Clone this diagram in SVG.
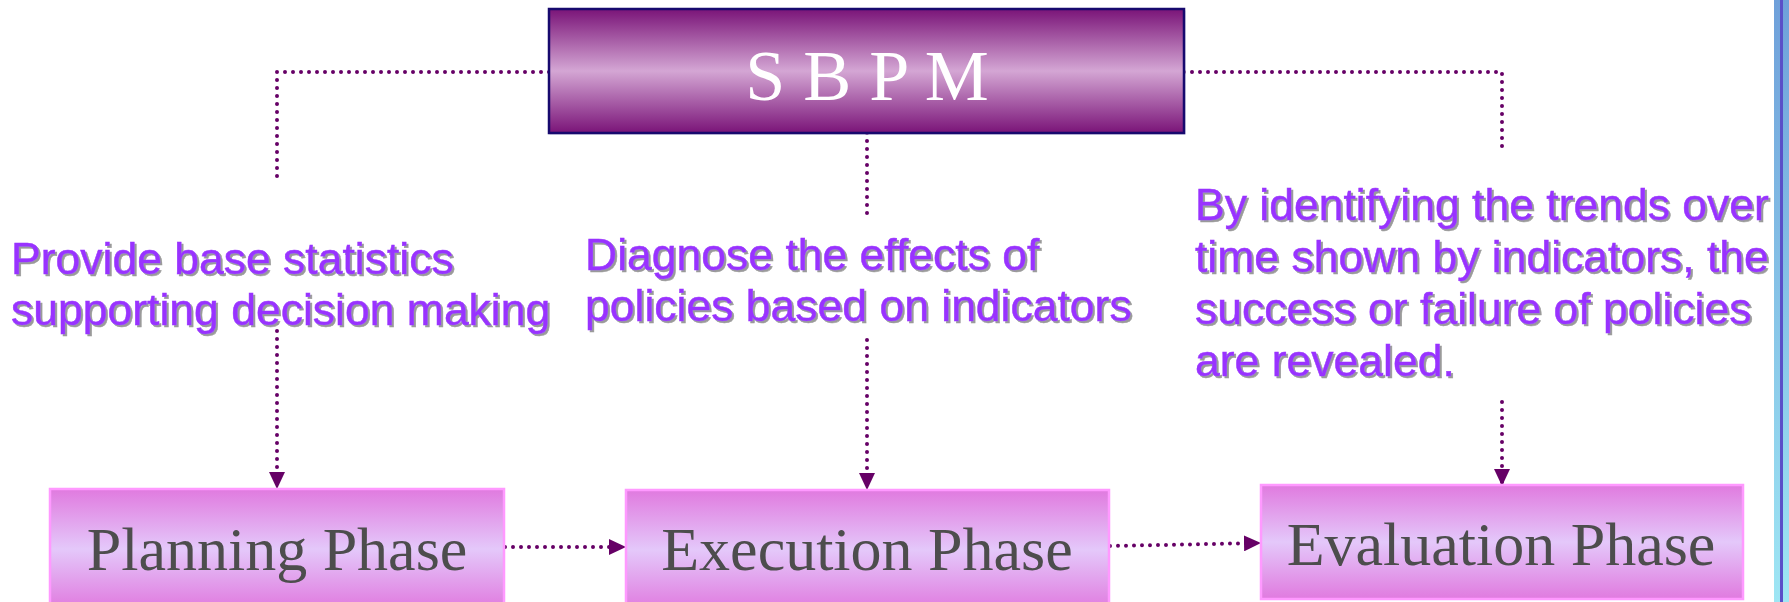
<svg xmlns="http://www.w3.org/2000/svg" width="1789" height="602" viewBox="0 0 1789 602">
<defs>
  <linearGradient id="gTop" x1="0" y1="0" x2="0" y2="1">
    <stop offset="0" stop-color="#7A1478"/>
    <stop offset="0.5" stop-color="#D4A6D4"/>
    <stop offset="1" stop-color="#7A1478"/>
  </linearGradient>
  <linearGradient id="gPhase" x1="0" y1="0" x2="0" y2="1">
    <stop offset="0" stop-color="#E07ADF"/>
    <stop offset="0.5" stop-color="#E4C8FA"/>
    <stop offset="1" stop-color="#E07ADF"/>
  </linearGradient>
  <linearGradient id="gBar" x1="0" y1="0" x2="0" y2="1">
    <stop offset="0" stop-color="#6FA0DA"/>
    <stop offset="1" stop-color="#9EE6F4"/>
  </linearGradient>
  <filter id="shadow" x="-5%" y="-20%" width="110%" height="140%">
    <feDropShadow dx="2" dy="2" stdDeviation="0.6" flood-color="#9A9A9A" flood-opacity="1"/>
  </filter>
  <marker id="arrow" markerWidth="17" markerHeight="16" refX="16" refY="8" orient="auto" markerUnits="userSpaceOnUse">
    <path d="M0,0 L17,8 L0,16 Z" fill="#660066"/>
  </marker>
</defs>
<style>
  .conn { fill: none; stroke: #660066; stroke-width: 4; stroke-linecap: round; stroke-dasharray: 0 8; }
  .arr { fill: none; stroke: #660066; stroke-width: 4; stroke-linecap: round; stroke-dasharray: 0 8; marker-end: url(#arrow); }
  .phase { fill: url(#gPhase); stroke: #FF99FF; stroke-width: 2.5; }
  .phaseText { font-family: "Liberation Serif", "Times New Roman", serif; font-size: 62px; fill: #4D4D4D; text-anchor: middle; }
  .note { font-family: "Liberation Sans", Arial, sans-serif; font-size: 44.5px; fill: #9933FF; stroke: #9933FF; stroke-width: 0.5; filter: url(#shadow); }
</style>
<rect x="0" y="0" width="1789" height="602" fill="#FFFFFF"/>

<!-- right decorative bar -->
<g id="sidebar">
  <rect x="1774" y="0" width="15" height="602" fill="url(#gBar)"/>
  <rect x="1780" y="0" width="3" height="602" fill="#5A4FC8"/>
</g>

<g id="connectors">
  <polyline class="conn" points="549,72 277,72 277,183"/>
  <line class="arr" x1="277" y1="323" x2="277" y2="488"/>
  <line class="conn" x1="867" y1="133" x2="867" y2="214"/>
  <line class="arr" x1="867" y1="340" x2="867" y2="489"/>
  <polyline class="conn" points="1184,72 1502,72 1502,148"/>
  <line class="arr" x1="1502" y1="402" x2="1502" y2="485"/>
  <line class="arr" x1="505" y1="547" x2="625" y2="547"/>
  <line class="arr" x1="1110" y1="546" x2="1260" y2="543"/>
</g>

<g id="sbpm">
  <rect x="550" y="11" width="635" height="123" fill="none" stroke="#C8CCE0" stroke-width="1"/>
  <rect x="549" y="9" width="635" height="124" fill="url(#gTop)" stroke="#17096E" stroke-width="2.5"/>
  <text x="867" y="100" font-family="Liberation Serif, 'Times New Roman', serif" font-size="72" fill="#FFFFFF" text-anchor="middle">S B P M</text>
</g>

<g id="note-planning">
  <text class="note" x="11" y="274">Provide base statistics</text>
  <text class="note" x="11" y="325">supporting decision making</text>
</g>

<g id="note-execution">
  <text class="note" x="585" y="270">Diagnose the effects of</text>
  <text class="note" x="585" y="321">policies based on indicators</text>
</g>

<g id="note-evaluation">
  <text class="note" x="1195" y="220">By identifying the trends over</text>
  <text class="note" x="1195" y="272">time shown by indicators, the</text>
  <text class="note" x="1195" y="324">success or failure of policies</text>
  <text class="note" x="1195" y="376">are revealed.</text>
</g>

<g id="planning">
  <rect class="phase" x="50" y="489" width="454" height="120"/>
  <text class="phaseText" x="277" y="570">Planning Phase</text>
</g>

<g id="execution">
  <rect class="phase" x="626" y="490" width="483" height="120"/>
  <text class="phaseText" x="867" y="570">Execution Phase</text>
</g>

<g id="evaluation">
  <rect class="phase" x="1261" y="485" width="482" height="114"/>
  <text class="phaseText" x="1501" y="565">Evaluation Phase</text>
</g>
</svg>
